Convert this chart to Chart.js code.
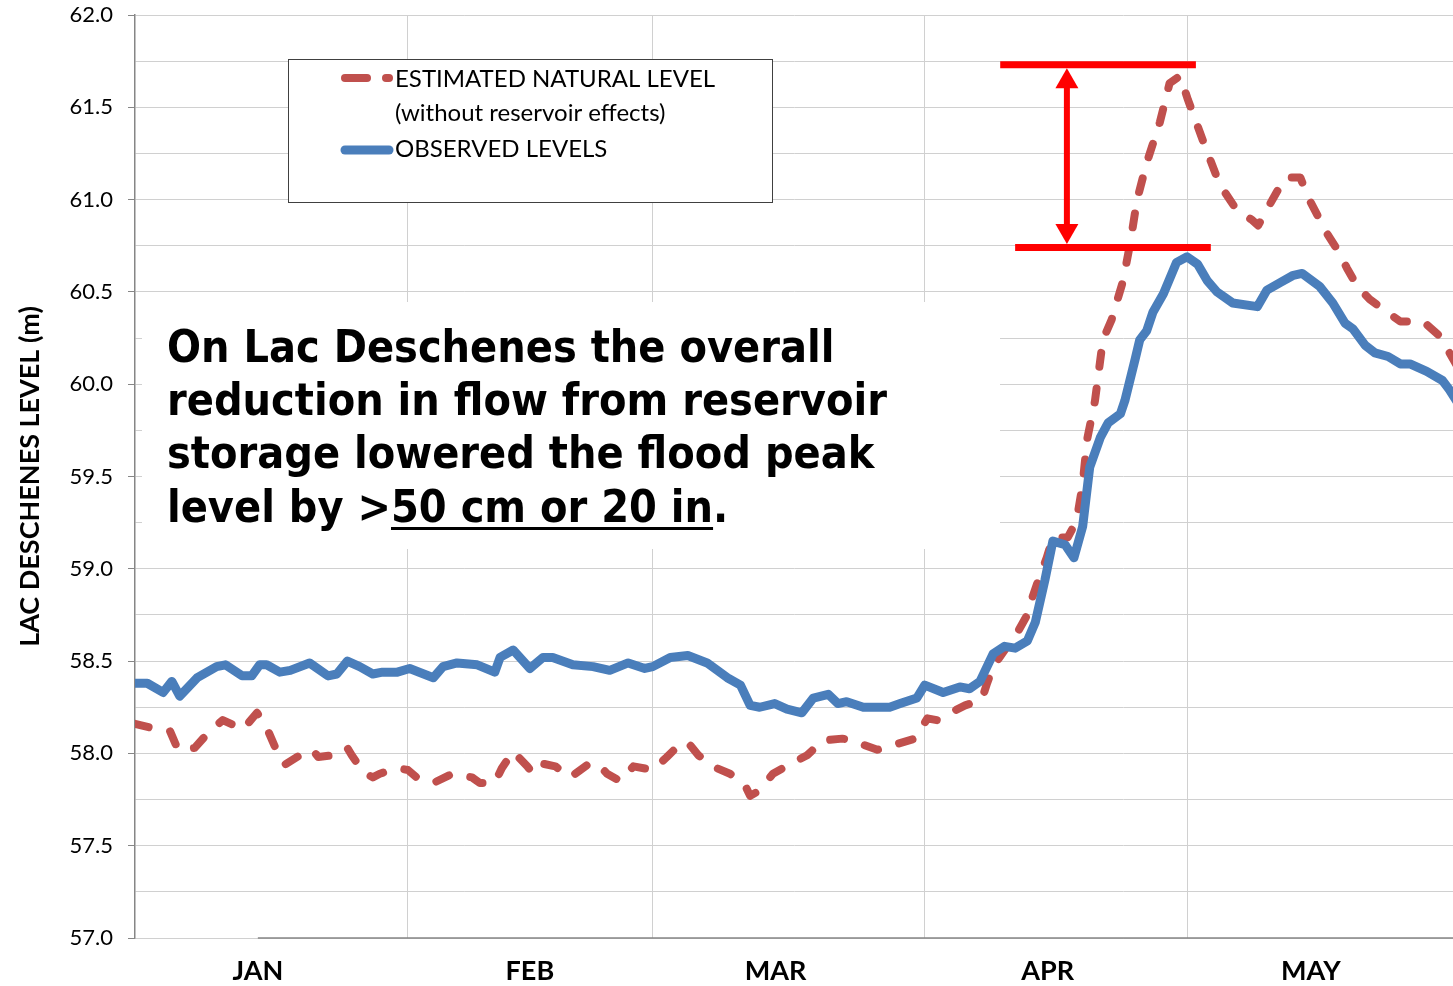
<!DOCTYPE html>
<html><head><meta charset="utf-8">
<script src="https://cdn.jsdelivr.net/npm/chart.js@4"></script>
<style>html,body{margin:0;padding:0;background:#fff;}#wrap{width:1453px;height:986px;position:relative;}</style>
</head><body><div id="wrap"><canvas id="c"></canvas></div>
<script>
// ---- data (day of year, 0 = Jan 1) ----
const monthLabels = ['JAN', 'FEB', 'MAR', 'APR', 'MAY'];
const monthLabelDays = [14, 45, 73, 104, 134];
const monthStartDays = [31, 59, 90, 120];
const yTickStep = 0.25;

const obsDays = [0,1.4,3.2,4.2,5.1,7.1,8.2,9.3,10.3,12.2,13.3,14.2,15.0,16.5,17.7,19.9,22.0,23.0,24.2,25.6,27.1,28.2,29.9,31.3,34.0,35.1,36.7,39.0,41.0,41.6,43.1,45.0,46.5,47.6,49.9,52.2,54.1,56.2,58.1,59.0,61.0,63.0,65.2,67.5,69.0,70.1,71.2,72.9,74.3,76.0,77.3,79.0,80.1,81.1,83.0,84.1,86.0,87.2,89.1,90.0,92.1,94.0,95.1,96.3,97.8,99.1,100.3,101.7,102.6,103.7,104.6,106.0,107.0,108.0,108.8,110.0,110.9,112.3,112.8,114.0,114.5,115.3,116.0,117.2,118.7,119.9,121.1,122.2,123.3,125.1,127.9,129.0,130.5,132.0,133.0,135.0,136.5,137.9,138.8,140.2,141.3,142.8,144.2,145.3,147.2,149.0,149.8,151.0];
const obsLevels = [58.38,58.38,58.33,58.39,58.31,58.41,58.44,58.47,58.48,58.42,58.42,58.48,58.48,58.44,58.45,58.49,58.42,58.43,58.50,58.47,58.43,58.44,58.44,58.46,58.41,58.47,58.49,58.48,58.44,58.52,58.56,58.46,58.52,58.52,58.48,58.47,58.45,58.49,58.46,58.47,58.52,58.53,58.49,58.41,58.37,58.26,58.25,58.27,58.24,58.22,58.30,58.32,58.27,58.28,58.25,58.25,58.25,58.27,58.30,58.37,58.33,58.36,58.35,58.39,58.54,58.58,58.57,58.61,58.71,58.94,59.15,59.13,59.06,59.23,59.55,59.71,59.79,59.84,59.91,60.14,60.24,60.29,60.39,60.49,60.66,60.69,60.65,60.56,60.50,60.44,60.42,60.51,60.55,60.59,60.60,60.53,60.44,60.33,60.30,60.21,60.17,60.15,60.11,60.11,60.07,60.02,59.97,59.88];

const estDays = [0,1.7,2.6,4.0,4.9,6.8,8.5,10.0,12.3,13.9,15.0,16.0,17.1,18.8,20.2,20.9,22.6,24.2,24.7,26.0,27.1,27.9,29.9,31.1,32.1,34.0,36.2,38.4,39.3,41.0,41.8,43.1,44.7,45.2,45.9,47.9,49.6,51.9,53.0,53.8,55.3,56.8,59.0,60.6,62.1,63.0,64.2,65.8,67.8,69.5,70.1,71.2,72.7,74.6,76.6,78.4,80.6,82.1,82.8,84.6,86.8,88.9,90.3,91.4,92.9,94.6,96.5,97.1,97.8,99.4,100.5,101.8,102.3,103.1,103.9,104.6,106.3,107.3,108.0,108.5,109.4,110.3,111.3,112.6,113.4,114.2,115.3,116.8,117.9,119.1,120.0,121.7,123.3,124.2,125.6,127.3,128.0,128.8,130.1,131.1,132.8,133.7,134.7,135.8,137.0,138.1,139.3,140.7,142.7,144.2,146.8,148.7,149.8,151.0];
const estLevels = [58.16,58.14,58.13,58.12,58.02,58.03,58.12,58.18,58.13,58.22,58.14,58.03,57.94,57.99,58.02,57.98,57.99,58.03,57.99,57.90,57.87,57.89,57.92,57.91,57.87,57.84,57.89,57.87,57.84,57.84,57.92,58.01,57.93,57.90,57.95,57.93,57.87,57.95,57.93,57.89,57.85,57.93,57.91,57.98,58.05,58.06,57.99,57.93,57.89,57.83,57.77,57.80,57.89,57.94,57.99,58.07,58.08,58.07,58.05,58.02,58.05,58.08,58.19,58.18,58.22,58.26,58.29,58.38,58.47,58.58,58.65,58.76,58.85,58.96,59.06,59.17,59.17,59.26,59.46,59.70,59.91,60.24,60.35,60.56,60.76,61.00,61.20,61.42,61.63,61.67,61.54,61.32,61.12,61.04,60.94,60.89,60.86,60.93,61.04,61.12,61.12,61.01,60.92,60.82,60.73,60.63,60.53,60.46,60.39,60.34,60.34,60.26,60.17,60.07];

// annotation values (data units)
const peakNatural = 61.73;
const peakObserved = 60.74;
const upperBarDays = [98.6, 120.9];
const lowerBarDays = [100.3, 122.6];
const arrowDay = 106.2;

const seriesNames = ['ESTIMATED NATURAL LEVEL', '(without reservoir effects)', 'OBSERVED LEVELS'];
const noteLines = ['On Lac Deschenes the overall', 'reduction in flow from reservoir', 'storage lowered the flood peak'];
const noteLast = ['level by >', '50 cm or 20 in', '.'];

const BLUE = '#4A7EBB', RED = '#C0504D', GRID = '#D0D0D0', AXIS = '#868686';

const isMajor = v => Math.abs(v * 2 - Math.round(v * 2)) < 1e-6;

let noteFont = null;
function pickNoteFont(ctx) {
  if (noteFont) return noteFont;
  ctx.save();
  ctx.font = 'bold 44px monospace';
  const wMono = ctx.measureText(noteLines[1]).width;
  ctx.font = 'bold 44px "DejaVu Sans Condensed", monospace';
  const wCond = ctx.measureText(noteLines[1]).width;
  ctx.restore();
  noteFont = (Math.abs(wMono - wCond) > 1 && wCond < 760) ? 'bold 44.5px "DejaVu Sans Condensed"' : 'bold 40px "DejaVu Sans"';
  return noteFont;
}

const overlay = {
  id: 'overlay',
  beforeDatasetsDraw(chart) {
    const ctx = chart.ctx, a = chart.chartArea;
    ctx.save();
    // note box
    ctx.fillStyle = '#fff';
    ctx.fillRect(a.left + 7, a.top + 287, 858, 247);
    ctx.fillStyle = '#000';
    ctx.font = pickNoteFont(ctx);
    ctx.textBaseline = 'alphabetic';
    ctx.textAlign = 'left';
    const x0 = a.left + 32;
    const base = [a.top + 347, a.top + 400, a.top + 453, a.top + 507];
    noteLines.forEach((t, i) => ctx.fillText(t, x0, base[i]));
    let x = x0;
    ctx.fillText(noteLast[0], x, base[3]); x += ctx.measureText(noteLast[0]).width;
    const w1 = ctx.measureText(noteLast[1]).width;
    ctx.fillText(noteLast[1], x, base[3]);
    ctx.fillRect(x, base[3] + 5, w1, 3);
    x += w1;
    ctx.fillText(noteLast[2], x, base[3]);

    // legend box
    const lx = a.left + 153, ly = a.top + 44;
    ctx.fillStyle = '#fff';
    ctx.fillRect(lx, ly, 484, 143);
    ctx.strokeStyle = '#404040';
    ctx.lineWidth = 1;
    ctx.strokeRect(lx + 0.5, ly + 0.5, 484, 143);
    ctx.lineCap = 'round';
    ctx.strokeStyle = RED; ctx.lineWidth = 8;
    ctx.beginPath(); ctx.moveTo(lx + 57, ly + 19); ctx.lineTo(lx + 79, ly + 19); ctx.stroke();
    ctx.beginPath(); ctx.moveTo(lx + 98, ly + 19); ctx.lineTo(lx + 101, ly + 19); ctx.stroke();
    ctx.strokeStyle = BLUE; ctx.lineWidth = 9;
    ctx.beginPath(); ctx.moveTo(lx + 57, ly + 91); ctx.lineTo(lx + 101, ly + 91); ctx.stroke();
    ctx.fillStyle = '#000';
    ctx.font = '24px Lato';
    ctx.fillText(seriesNames[0], lx + 107, ly + 28);
    ctx.fillText(seriesNames[1], lx + 107, ly + 62);
    ctx.fillText(seriesNames[2], lx + 107, ly + 98);
    ctx.restore();
  },
  afterDatasetsDraw(chart) {
    const ctx = chart.ctx, a = chart.chartArea;
    const xs = chart.scales.x, ys = chart.scales.y;
    ctx.save();
    ctx.strokeStyle = AXIS; ctx.lineWidth = 1.5;
    ctx.beginPath(); ctx.moveTo(xs.getPixelForValue(monthLabelDays[0]), a.bottom); ctx.lineTo(a.right, a.bottom); ctx.stroke();
    const yU = ys.getPixelForValue(peakNatural), yL = ys.getPixelForValue(peakObserved);
    ctx.strokeStyle = '#FF0000'; ctx.fillStyle = '#FF0000';
    ctx.lineCap = 'butt';
    ctx.lineWidth = 7;
    ctx.beginPath(); ctx.moveTo(xs.getPixelForValue(upperBarDays[0]), yU); ctx.lineTo(xs.getPixelForValue(upperBarDays[1]), yU); ctx.stroke();
    ctx.beginPath(); ctx.moveTo(xs.getPixelForValue(lowerBarDays[0]), yL); ctx.lineTo(xs.getPixelForValue(lowerBarDays[1]), yL); ctx.stroke();
    const ax = xs.getPixelForValue(arrowDay);
    const tTop = yU + 3.5, tBot = yL - 3.5, hh = 20, hw = 11.5;
    ctx.lineWidth = 6;
    ctx.beginPath(); ctx.moveTo(ax, tTop + hh - 2); ctx.lineTo(ax, tBot - hh + 2); ctx.stroke();
    ctx.beginPath(); ctx.moveTo(ax, tTop); ctx.lineTo(ax - hw, tTop + hh); ctx.lineTo(ax + hw, tTop + hh); ctx.closePath(); ctx.fill();
    ctx.beginPath(); ctx.moveTo(ax, tBot); ctx.lineTo(ax - hw, tBot - hh); ctx.lineTo(ax + hw, tBot - hh); ctx.closePath(); ctx.fill();
    ctx.restore();
  }
};

new Chart(document.getElementById('c'), {
  type: 'line',
  data: {
    datasets: [
      { label: 'OBSERVED LEVELS', data: obsDays.map((d, i) => ({ x: d, y: obsLevels[i] })),
        borderColor: BLUE, borderWidth: 9, borderJoinStyle: 'round', borderCapStyle: 'round',
        pointRadius: 0, tension: 0, fill: false },
      { label: 'ESTIMATED NATURAL LEVEL', data: estDays.map((d, i) => ({ x: d, y: estLevels[i] })),
        borderColor: RED, borderWidth: 8, borderDash: [14, 22], borderJoinStyle: 'round', borderCapStyle: 'round',
        pointRadius: 0, tension: 0, fill: false }
    ]
  },
  options: {
    responsive: true, maintainAspectRatio: false, animation: false, devicePixelRatio: 1,
    layout: { padding: { top: 15, left: 0, right: 0, bottom: 0 } },
    plugins: { legend: { display: false }, tooltip: { enabled: false } },
    scales: {
      x: {
        type: 'linear', min: 0, max: 150.2, position: 'bottom',
        afterBuildTicks: s => { s.ticks = monthStartDays.concat(monthLabelDays).sort((p, q) => p - q).map(v => ({ value: v })); },
        afterFit: s => { s.height = 48; s.paddingLeft = 0; s.paddingRight = 0; },
        ticks: {
          autoSkip: false, maxRotation: 0, minRotation: 0, padding: 17, color: '#000',
          font: { family: 'Lato', size: 27, weight: 'bold' },
          callback: v => { const i = monthLabelDays.indexOf(v); return i >= 0 ? monthLabels[i] : ''; }
        },
        grid: { drawTicks: false, lineWidth: 1,
          color: c => (c.tick && monthStartDays.includes(c.tick.value)) ? GRID : 'rgba(0,0,0,0)' },
        border: { display: false }
      },
      y: {
        type: 'linear', min: 57, max: 62,
        afterFit: s => { s.width = 135; s.paddingTop = 0; s.paddingBottom = 0; },
        ticks: { stepSize: yTickStep, autoSkip: false, padding: 15, color: '#000',
          font: { family: 'Lato', size: 22 },
          callback: v => isMajor(v) ? Number(v).toFixed(1) : '' },
        grid: { color: GRID, lineWidth: 1, tickLength: 7,
          tickColor: c => (c.tick && isMajor(c.tick.value)) ? AXIS : 'rgba(0,0,0,0)' },
        border: { color: AXIS, width: 1.5 },
        title: { display: true, text: 'LAC DESCHENES LEVEL (m)', color: '#000',
          font: { family: 'Lato', size: 27, weight: 'bold' }, padding: { top: 14, bottom: 0 } }
      }
    }
  },
  plugins: [overlay]
});
</script>
</body></html>
